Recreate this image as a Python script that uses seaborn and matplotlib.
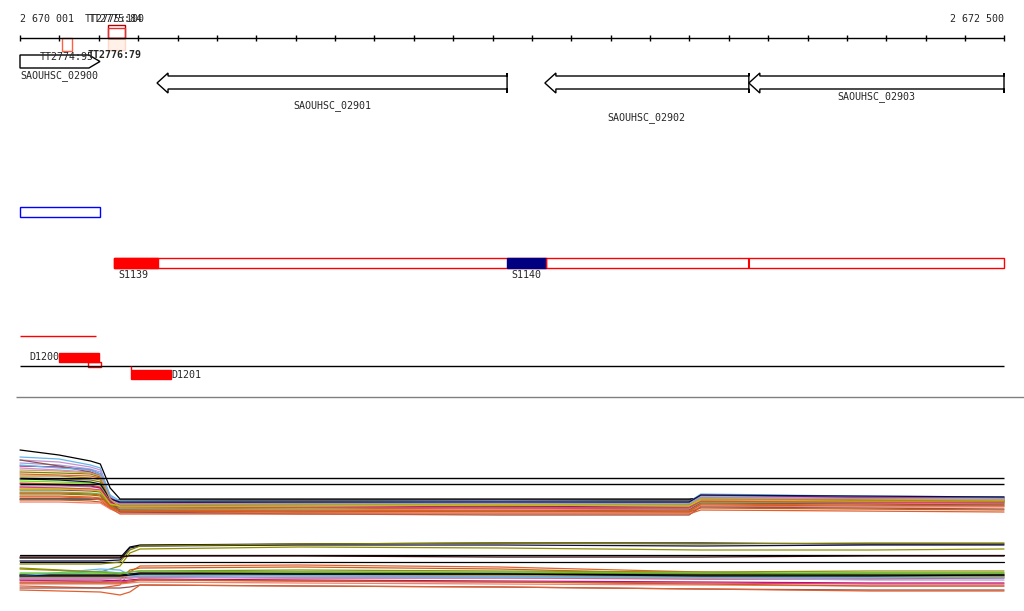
import numpy as np
import pandas as pd
import matplotlib.pyplot as plt
from matplotlib.patches import Polygon, Rectangle
import seaborn as sns

# --- genomic window ---
start_pos, end_pos = 2670001, 2672500
tick_step = 100

# genes: (name, start, end, strand)
gene_names = ['SAOUHSC_02900', 'SAOUHSC_02901', 'SAOUHSC_02902', 'SAOUHSC_02903']
gene_starts = [2670001, 2670349, 2671334, 2671852]
gene_ends = [2670204, 2671238, 2671852, 2672500]
gene_strands = ['+', '-', '-', '-']

# transcript termini
tt_names = ['TT2774:95', 'TT2775:100', 'TT2775:84', 'TT2776:79']
tt_starts = [2670108, 2670224, 2670224, 2670224]
tt_ends = [2670133, 2670268, 2670268, 2670268]

# segments
seg_names = ['S1139', 'S1140']
seg_starts = [2670240, 2671238]
seg_ends = [2670351, 2671337]
seg_span = [2670240, 2672500]
seg_break = 2671852

# deletions / direct features
del_names = ['D1200', 'D1201']
del_starts = [2670100, 2670283]
del_ends = [2670202, 2670385]

# --- expression profiles (upper block) ---
upper_pos = [2670001, 2670100, 2670180, 2670205, 2670230, 2670255,
             2670710, 2671220, 2671700, 2671730, 2672110, 2672500]
upper_colors = ['#000000', '#000000', '#60b8f0', '#c890d0', '#a0a0e0', '#b01070',
                '#c890d0', '#808000', '#e06030', '#b09020', '#808000', '#66ee00',
                '#c8601c', '#a0a0a0', '#f08070', '#905050', '#60c040', '#808000',
                '#e06030', '#c8601c', '#f08070', '#905050', '#60b8f0', '#b01070',
                '#101040', '#e04080', '#d0a060', '#c8c000', '#e06030', '#c8601c']
upper_values = [
    [450, 455, 461, 464, 488, 499, 499, 499, 499, 498, 498, 498],
    [499, 499, 499, 499, 500, 500, 500, 500, 500, 499, 499, 499],
    [457, 459, 465, 468, 496, 503, 503, 502, 503, 496, 497, 498],
    [460, 462, 467, 470, 497, 505, 504, 503, 504, 497, 498, 499],
    [463, 465, 469, 472, 497, 504, 503, 504, 504, 497, 497, 499],
    [466, 467, 470, 474, 498, 503, 502, 501, 502, 495, 497, 497],
    [468, 470, 472, 475, 499, 506, 505, 505, 506, 499, 500, 500],
    [472, 473, 474, 477, 500, 506, 505, 506, 505, 499, 500, 501],
    [474, 475, 476, 478, 501, 507, 507, 506, 507, 500, 501, 502],
    [476, 476, 478, 480, 501, 505, 504, 505, 505, 498, 499, 500],
    [478, 479, 480, 482, 502, 507, 506, 507, 506, 500, 501, 501],
    [481, 482, 483, 485, 502, 508, 507, 508, 507, 501, 502, 503],
    [483, 484, 485, 487, 503, 509, 508, 509, 508, 502, 503, 504],
    [486, 486, 487, 488, 503, 504, 504, 504, 504, 498, 499, 500],
    [488, 488, 489, 490, 504, 509, 510, 509, 510, 503, 503, 504],
    [490, 490, 491, 492, 505, 510, 511, 511, 510, 503, 504, 505],
    [492, 492, 493, 494, 505, 508, 508, 507, 508, 502, 502, 503],
    [494, 494, 495, 496, 506, 507, 507, 507, 507, 501, 502, 502],
    [496, 496, 497, 498, 507, 511, 510, 511, 511, 504, 505, 506],
    [500, 500, 501, 502, 508, 512, 512, 512, 512, 505, 506, 506],
    [502, 502, 503, 503, 509, 513, 513, 513, 513, 506, 507, 507],
    [460, 466, 472, 476, 500, 512, 514, 515, 515, 507, 508, 509],
    [465, 468, 470, 474, 495, 501, 502, 501, 502, 494, 496, 497],
    [484, 485, 486, 488, 502, 506, 506, 506, 507, 500, 500, 501],
    [479, 480, 482, 484, 499, 502, 502, 502, 502, 495, 496, 497],
    [487, 488, 489, 490, 503, 507, 507, 508, 508, 501, 502, 503],
    [470, 471, 473, 476, 499, 507, 506, 505, 506, 499, 499, 500],
    [489, 489, 490, 491, 504, 506, 506, 505, 506, 500, 501, 501],
    [497, 497, 498, 500, 508, 514, 514, 514, 514, 510, 511, 512],
    [493, 493, 494, 495, 506, 511, 512, 511, 512, 508, 509, 510],
]
upper_refs = [478, 484]

# --- expression profiles (lower block) ---
lower_pos = [2670001, 2670205, 2670255, 2670280, 2670306,
             2670710, 2671220, 2671730, 2672160, 2672500]
lower_colors = ['#000000', '#000000', '#000000', '#101040', '#808000', '#909000',
                '#60b8f0', '#e06030', '#c8601c', '#66ee00', '#808000', '#b01070',
                '#e02020', '#e04080', '#f08070', '#905050', '#c890d0', '#a0a0a0',
                '#b09020', '#c8601c', '#e06030', '#101040', '#60b8f0', '#909000',
                '#60c040', '#000000', '#300808']
lower_values = [
    [555, 555, 555, 555, 555, 555, 555, 555, 555, 555],
    [562, 562, 562, 562, 562, 562, 562, 562, 562, 562],
    [558, 558, 558, 547, 545, 544, 543, 543, 544, 544],
    [561, 561, 560, 548, 546, 545, 545, 546, 545, 545],
    [564, 564, 562, 550, 546, 544, 543, 544, 543, 543],
    [568, 572, 566, 553, 549, 547, 548, 550, 550, 549],
    [577, 571, 573, 576, 577, 575, 576, 577, 578, 577],
    [586, 588, 585, 572, 566, 565, 567, 572, 575, 575],
    [580, 582, 580, 570, 568, 567, 569, 574, 576, 576],
    [574, 574, 574, 575, 574, 573, 574, 575, 574, 574],
    [576, 576, 576, 574, 573, 572, 573, 574, 573, 573],
    [580, 580, 581, 580, 579, 580, 581, 582, 583, 583],
    [578, 578, 578, 578, 577, 578, 578, 579, 579, 578],
    [582, 582, 582, 581, 580, 581, 582, 583, 584, 584],
    [584, 584, 584, 583, 582, 583, 584, 585, 586, 586],
    [588, 588, 588, 587, 585, 586, 587, 589, 590, 590],
    [579, 579, 579, 578, 577, 578, 578, 578, 580, 580],
    [577, 577, 577, 576, 575, 576, 576, 577, 577, 577],
    [575, 575, 575, 574, 573, 574, 575, 576, 576, 576],
    [583, 583, 583, 582, 580, 581, 582, 584, 586, 586],
    [590, 592, 595, 592, 585, 586, 587, 589, 591, 591],
    [575, 575, 575, 574, 573, 574, 574, 576, 576, 575],
    [576, 569, 570, 575, 576, 576, 577, 578, 578, 578],
    [569, 572, 574, 572, 571, 570, 571, 572, 571, 571],
    [573, 573, 573, 572, 571, 572, 572, 573, 573, 573],
    [576, 576, 576, 575, 574, 574, 574, 575, 575, 575],
    [557, 557, 557, 556, 556, 556, 557, 557, 556, 556],
]

sns.set_style('white')
plt.rcParams['font.family'] = ['DejaVu Sans Mono']

fig = plt.figure(figsize=(10.24, 6.11), dpi=100)
ax = fig.add_axes([0, 0, 1, 1])
bp_px = (end_pos - start_pos) / 984.0
ax.set_xlim(start_pos - 20 * bp_px, end_pos + 20 * bp_px)
ax.set_ylim(611, 0)
ax.axis('off')
fs = 7.2

# ruler
ax.hlines(38, start_pos, end_pos, color='black', lw=1)
ticks = list(range(start_pos, end_pos, tick_step)) + [end_pos]
ax.vlines(ticks, 35, 41, color='black', lw=1)
ax.text(start_pos, 19, '2 670 001', fontsize=fs, va='center', ha='left')
ax.text(end_pos, 19, '2 672 500', fontsize=fs, va='center', ha='right')

# transcript termini
ax.add_patch(Rectangle((tt_starts[0], 38), tt_ends[0] - tt_starts[0], 13,
                       fill=False, ec='#ff6040', lw=1))
ax.add_patch(Rectangle((tt_starts[3], 38), tt_ends[3] - tt_starts[3], 12,
                       fc='#fff0e8', ec='#ffd8c8', lw=1))
ax.add_patch(Rectangle((tt_starts[1], 25), tt_ends[1] - tt_starts[1], 13,
                       fill=False, ec='#b00000', lw=1))
ax.add_patch(Rectangle((tt_starts[2], 28), tt_ends[2] - tt_starts[2], 10,
                       fill=False, ec='#e03030', lw=1))
ax.text(2670050, 57, tt_names[0], fontsize=fs, va='center')
ax.text(2670165, 19, tt_names[1], fontsize=fs, va='center')
ax.text(2670175, 19, tt_names[2], fontsize=fs, va='center')
ax.text(2670172, 55, tt_names[3], fontsize=fs, va='center', fontweight='bold')

# genes
head = 11 * bp_px
label_pos = [(start_pos, 76, 'left'), (None, 106, 'center'),
             (None, 118, 'center'), (None, 97, 'center')]
for name, s, e, strand, (lx, ly, ha) in zip(gene_names, gene_starts, gene_ends,
                                             gene_strands, label_pos):
    if strand == '+':
        pts = [(s, 55), (e - head, 55), (e, 61.5), (e - head, 68), (s, 68)]
    else:
        pts = [(s, 83), (s + head, 73), (s + head, 76), (e, 76), (e, 73),
               (e, 93), (e, 89), (s + head, 89), (s + head, 93)]
    ax.add_patch(Polygon(pts, closed=True, fc='white', ec='black', lw=1))
    if lx is None:
        lx = (s + e) / 2
    ax.text(lx, ly, name, fontsize=fs, va='center', ha=ha)

# blue region
ax.add_patch(Rectangle((2670001, 207), 2670204 - 2670001, 10,
                       fill=False, ec='#0000ff', lw=1))

# segments track
ax.add_patch(Rectangle((seg_span[0], 258), seg_span[1] - seg_span[0], 10,
                       fill=False, ec='#ff0000', lw=1))
ax.vlines(seg_break, 258, 268, color='#ff0000', lw=1.5)
ax.add_patch(Rectangle((seg_starts[0], 258), seg_ends[0] - seg_starts[0], 10,
                       fc='#ff0000', ec='#ff0000', lw=1))
ax.add_patch(Rectangle((seg_starts[1], 258), seg_ends[1] - seg_starts[1], 10,
                       fc='#000080', ec='#000080', lw=1))
ax.vlines(seg_ends[1], 258, 268, color='#ff0000', lw=1)
for name, s in zip(seg_names, seg_starts):
    ax.text(s + 12, 275, name, fontsize=fs, va='center')

# deletions track
ax.hlines(336, 2670001, 2670194, color='#ff0000', lw=1)
ax.add_patch(Rectangle((del_starts[0], 353), del_ends[0] - del_starts[0], 9,
                       fc='#ff0000', ec='#ff0000', lw=1))
ax.add_patch(Rectangle((2670174, 362), 2670207 - 2670174, 5,
                       fill=False, ec='#ff0000', lw=1))
ax.hlines(366, start_pos, end_pos, color='black', lw=1)
ax.vlines(del_starts[1], 366, 370, color='#ff0000', lw=1)
ax.add_patch(Rectangle((del_starts[1], 370), del_ends[1] - del_starts[1], 9,
                       fc='#ff0000', ec='#ff0000', lw=1))
ax.text(del_starts[0], 357, del_names[0], fontsize=fs, va='center', ha='right')
ax.text(del_ends[1], 375, del_names[1], fontsize=fs, va='center', ha='left')

# separator
ax.hlines(397, start_pos - 10, end_pos + 60, color='#808080', lw=1)

# profiles
rows = []
for i, vals in enumerate(upper_values):
    for p, v in zip(upper_pos, vals):
        rows.append(('u%02d' % i, p, v))
for i, vals in enumerate(lower_values):
    for p, v in zip(lower_pos, vals):
        rows.append(('l%02d' % i, p, v))
df = pd.DataFrame(rows, columns=['probe', 'pos', 'signal'])
pal = {'u%02d' % i: c for i, c in enumerate(upper_colors)}
pal.update({'l%02d' % i: c for i, c in enumerate(lower_colors)})
sns.lineplot(data=df, x='pos', y='signal', hue='probe', palette=pal,
             estimator=None, sort=False, legend=False, lw=0.9, ax=ax)
ax.hlines(upper_refs, start_pos, end_pos, color='black', lw=1)
ax.set_xlim(start_pos - 20 * bp_px, end_pos + 20 * bp_px)
ax.set_ylim(611, 0)
ax.axis('off')

fig.savefig('out.png', dpi=100)
